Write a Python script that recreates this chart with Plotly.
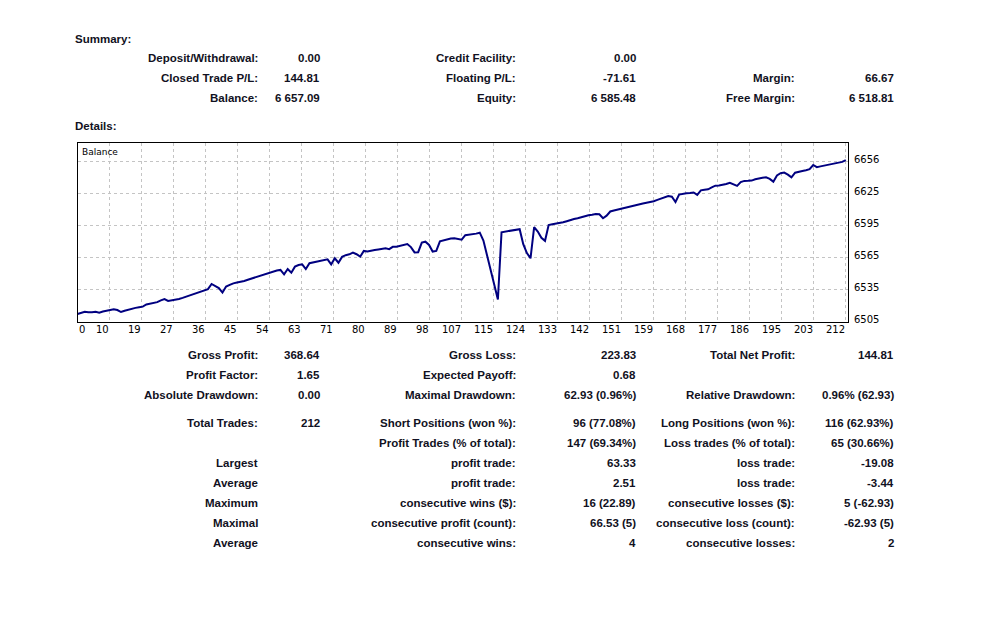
import plotly.graph_objects as go

W, H = 1008, 630

# ---------------- data ----------------
trade_index = list(range(0, 213))
balance = [
    6512.28, 6513.6, 6514.4, 6514.0, 6513.8, 6514.4, 6513.5, 6514.6, 6515.3, 6516.2,
    6516.8, 6516.0, 6514.1, 6515.3, 6516.4, 6517.3, 6518.0, 6518.6, 6519.2, 6521.2,
    6521.8, 6522.6, 6523.4, 6525.1, 6526.3, 6524.6, 6525.0, 6525.5, 6526.4, 6527.4,
    6528.5, 6529.5, 6530.6, 6531.7, 6532.9, 6534.2, 6535.6, 6540.5, 6538.7, 6536.6,
    6532.4, 6538.1, 6539.6, 6541.1, 6541.8, 6542.4, 6543.3, 6544.5, 6545.6, 6546.6,
    6547.7, 6549.0, 6550.0, 6551.1, 6552.2, 6553.1, 6553.7, 6549.6, 6554.6, 6551.1,
    6556.8, 6558.3, 6559.0, 6554.6, 6560.0, 6560.8, 6561.4, 6562.1, 6562.8, 6563.7,
    6559.0, 6564.7, 6560.5, 6566.0, 6567.6, 6568.4, 6570.0, 6568.5, 6566.2, 6571.6,
    6571.0, 6571.4, 6572.4, 6572.9, 6573.4, 6574.0, 6573.3, 6575.5, 6575.6, 6576.2,
    6577.4, 6578.1, 6575.2, 6570.2, 6570.4, 6579.5, 6580.3, 6577.2, 6571.0, 6571.6,
    6580.6, 6581.6, 6582.8, 6583.2, 6583.5, 6582.7, 6582.2, 6586.4, 6586.8, 6587.3,
    6587.9, 6588.8, 6581.4, 6567.6, 6553.2, 6537.4, 6525.9, 6589.2, 6589.9, 6590.4,
    6591.0, 6591.8, 6592.1, 6578.0, 6569.6, 6564.7, 6594.0, 6589.8, 6584.0, 6581.1,
    6596.0, 6596.7, 6597.1, 6597.6, 6598.6, 6599.6, 6600.8, 6601.6, 6602.4, 6603.5,
    6604.4, 6605.1, 6605.7, 6606.4, 6606.1, 6602.4, 6604.8, 6608.7, 6609.6, 6610.5,
    6611.3, 6612.1, 6613.1, 6613.9, 6614.8, 6615.6, 6616.3, 6617.0, 6617.6, 6618.4,
    6619.6, 6620.9, 6622.4, 6623.3, 6622.6, 6617.6, 6624.6, 6625.6, 6625.9, 6626.2,
    6626.6, 6624.4, 6628.6, 6629.2, 6629.6, 6631.4, 6633.0, 6633.2, 6633.6, 6634.6,
    6635.8, 6634.6, 6632.8, 6636.4, 6637.5, 6637.6, 6637.8, 6639.0, 6640.0, 6640.4,
    6640.9, 6639.4, 6636.8, 6642.6, 6644.7, 6645.3, 6643.4, 6640.8, 6645.2, 6646.3,
    6646.9, 6647.6, 6648.5, 6652.5, 6650.4, 6651.2, 6651.9, 6652.4, 6653.0, 6653.5,
    6654.2, 6655.4, 6657.09,
]

x_tick_labels = ["0", "10", "19", "27", "36", "45", "54", "63", "71", "80", "89", "98",
                 "107", "115", "124", "133", "142", "151", "159", "168", "177", "186",
                 "195", "203", "212"]
y_tick_vals = [6505.0, 6535.2, 6565.4, 6595.6, 6625.8, 6656.0]
y_tick_labels = ["6505", "6535", "6565", "6595", "6625", "6656"]

summary_labels = [
    ["Deposit/Withdrawal:", "Credit Facility:", ""],
    ["Closed Trade P/L:", "Floating P/L:", "Margin:"],
    ["Balance:", "Equity:", "Free Margin:"],
]
summary_values = [
    ["0.00", "0.00", ""],
    ["144.81", "-71.61", "66.67"],
    ["6 657.09", "6 585.48", "6 518.81"],
]

details_labels_1 = ["Gross Profit:", "Profit Factor:", "Absolute Drawdown:", "Total Trades:", "",
                    "Largest", "Average", "Maximum", "Maximal", "Average"]
details_values_1 = ["368.64", "1.65", "0.00", "212", "", "", "", "", "", ""]
details_labels_2 = ["Gross Loss:", "Expected Payoff:", "Maximal Drawdown:", "Short Positions (won %):",
                    "Profit Trades (% of total):", "profit trade:", "profit trade:",
                    "consecutive wins ($):", "consecutive profit (count):", "consecutive wins:"]
details_values_2 = ["223.83", "0.68", "62.93 (0.96%)", "96 (77.08%)", "147 (69.34%)", "63.33",
                    "2.51", "16 (22.89)", "66.53 (5)", "4"]
details_labels_3 = ["Total Net Profit:", "", "Relative Drawdown:", "Long Positions (won %):",
                    "Loss trades (% of total):", "loss trade:", "loss trade:",
                    "consecutive losses ($):", "consecutive loss (count):", "consecutive losses:"]
details_values_3 = ["144.81", "", "0.96% (62.93)", "116 (62.93%)", "65 (30.66%)", "-19.08",
                    "-3.44", "5 (-62.93)", "-62.93 (5)", "2"]

# ---------------- layout constants ----------------
PLOT_L, PLOT_R, PLOT_T, PLOT_B = 77.5, 848.0, 143.3, 321.7
X_MAX = 212.6
Y_MIN, Y_MAX = 6505.0, 6672.9
TXT = "#111122"
FONT = "Liberation Sans"


def px(x):
    return x / W


def py(y):
    return 1 - y / H


fig = go.Figure()
fig.add_trace(go.Scatter(x=trade_index, y=balance, mode="lines",
                         line=dict(color="#000080", width=2), hoverinfo="skip",
                         showlegend=False))

n_grid = len(x_tick_labels) - 1
x_tick_vals = [212 * k / n_grid for k in range(n_grid + 1)]

fig.update_layout(
    width=W, height=H, margin=dict(l=0, r=0, t=0, b=0),
    paper_bgcolor="white", plot_bgcolor="white",
    xaxis=dict(domain=[px(PLOT_L), px(PLOT_R)], range=[0, X_MAX], showticklabels=False,
               tickvals=x_tick_vals[1:], showgrid=True, gridcolor="#c4c4c4",
               griddash="3px,3px", gridwidth=1, zeroline=False, showline=True,
               linecolor="#000000", linewidth=1, mirror=True, ticks=""),
    yaxis=dict(domain=[py(PLOT_B), py(PLOT_T)], range=[Y_MIN, Y_MAX], showticklabels=False,
               tickvals=y_tick_vals[1:], showgrid=True, gridcolor="#c4c4c4",
               griddash="3px,3px", gridwidth=1, zeroline=False, showline=True,
               linecolor="#000000", linewidth=1, mirror=True, ticks=""),
)

ann = []
# x tick labels (right-aligned to their gridline, first one at left border)
for v, t in zip(x_tick_vals, x_tick_labels):
    ann.append(dict(x=v, xref="x", y=py(329), yref="paper", text=t, showarrow=False,
                    xanchor="left" if v == 0 else "right", yanchor="middle",
                    xshift=-1 if v == 0 else 1,
                    font=dict(family="DejaVu Sans", size=10, color="#000000")))
# y tick labels on the right
for v, t in zip(y_tick_vals, y_tick_labels):
    ann.append(dict(x=px(852), xref="paper", y=v, yref="y", text=t, showarrow=False,
                    xanchor="left", yanchor="middle", yshift=2,
                    font=dict(family="DejaVu Sans", size=10, color="#000000")))
# chart caption
ann.append(dict(x=px(80), xref="paper", y=py(151.5), yref="paper", text="Balance",
                showarrow=False, xanchor="left", yanchor="middle",
                font=dict(family="DejaVu Sans", size=9, color="#000000")))


def txt(x, y, s, anchor="right"):
    if s:
        ann.append(dict(x=px(x), xref="paper", y=py(y), yref="paper", text="<b>%s</b>" % s,
                        showarrow=False, xanchor=anchor, yanchor="middle",
                        font=dict(family=FONT, size=11.5, color=TXT)))


txt(73, 38.5, "Summary:", "left")
txt(73, 126, "Details:", "left")

label_right = [260, 518, 797]
value_right = [322, 638, 896]
summary_rows_y = [58.3, 78.3, 98]
for r, yv in enumerate(summary_rows_y):
    for c in range(3):
        txt(label_right[c], yv, summary_labels[r][c])
        txt(value_right[c], yv, summary_values[r][c])

details_rows_y = [355, 375, 395, 423.3, 443.3, 463.3, 483.3, 503.3, 523.3, 543.3]
cols = [(details_labels_1, details_values_1), (details_labels_2, details_values_2),
        (details_labels_3, details_values_3)]
for c, (labs, vals) in enumerate(cols):
    for r, yv in enumerate(details_rows_y):
        txt(label_right[c], yv, labs[r])
        txt(value_right[c], yv, vals[r])

fig.update_layout(annotations=ann)
fig.write_html("out.html")
